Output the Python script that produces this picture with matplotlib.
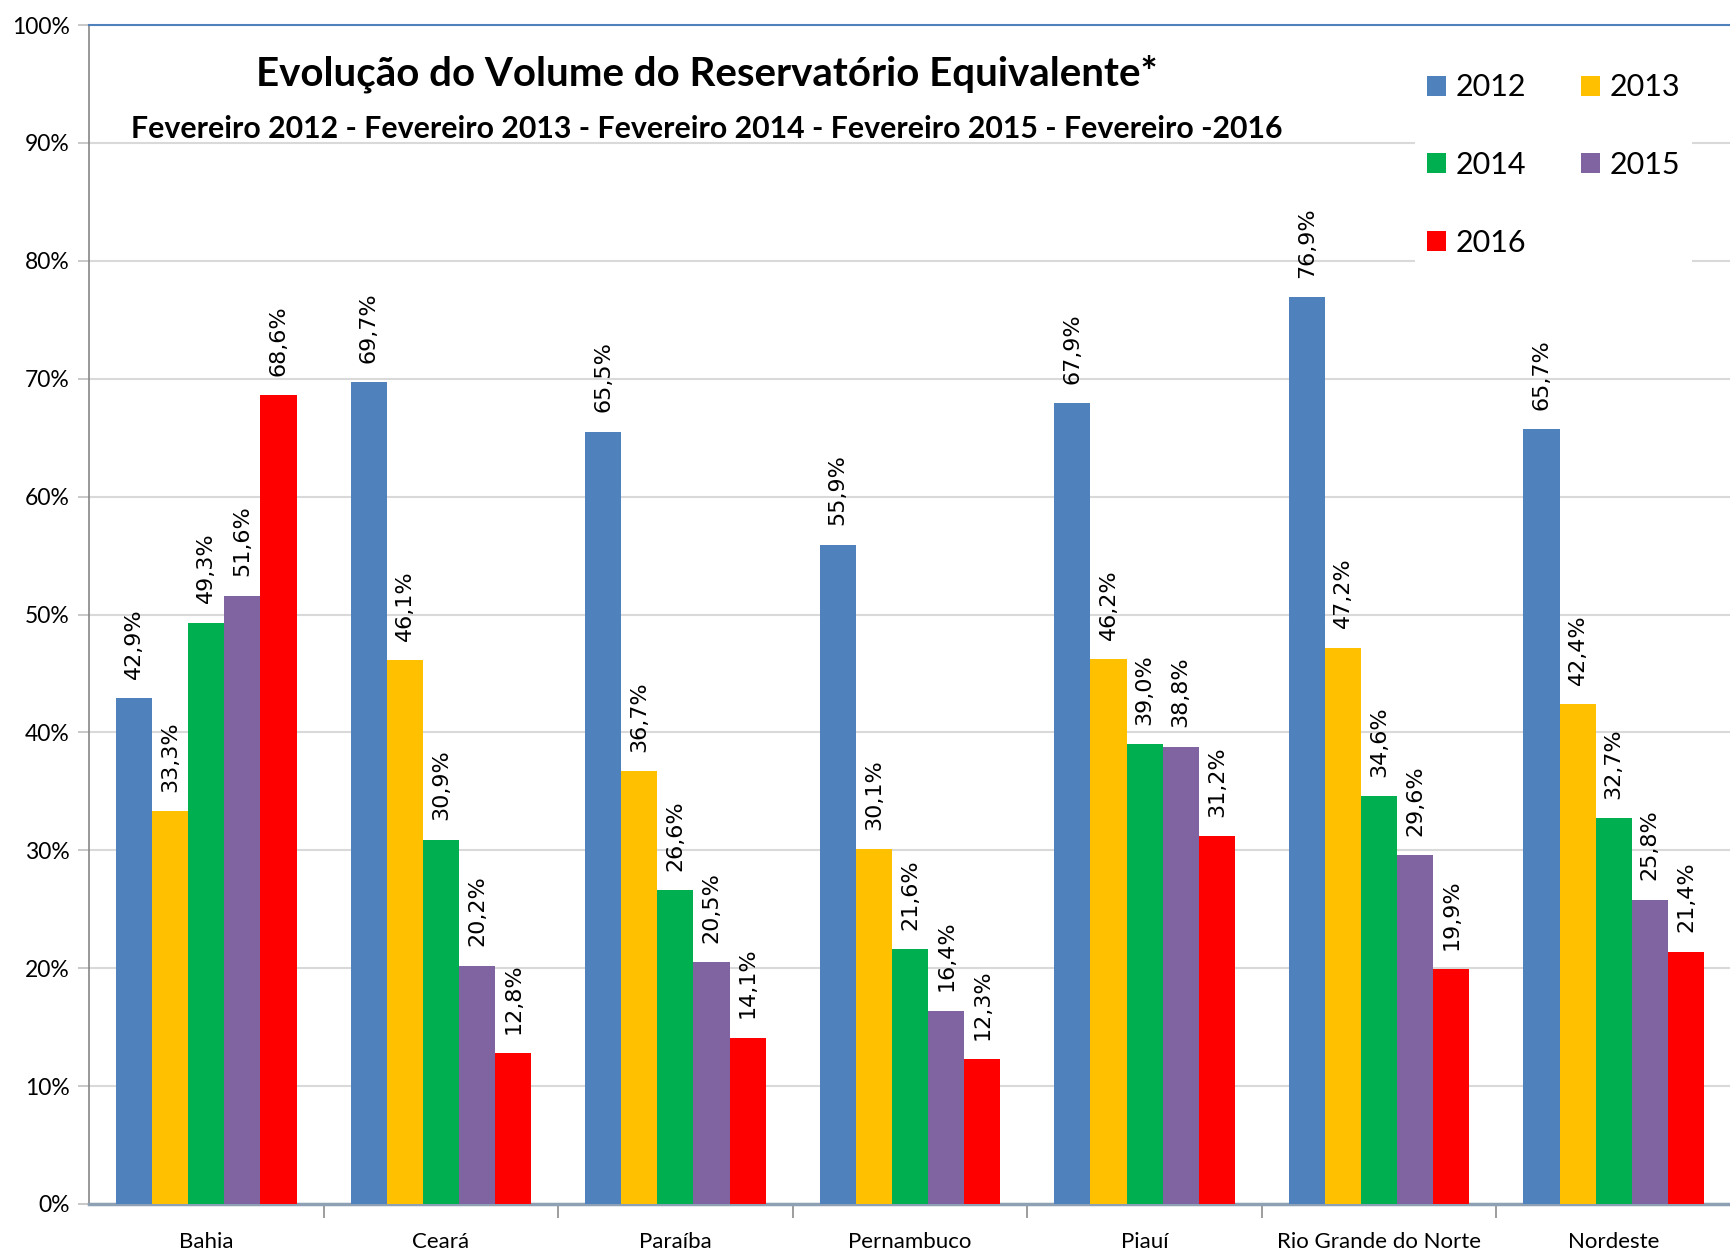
import numpy as np
import matplotlib
matplotlib.use('Agg')
from matplotlib import pyplot as plt
from matplotlib.patches import Rectangle

# data (percent)
regioes = ['Bahia', 'Ceará', 'Paraíba', 'Pernambuco', 'Piauí', 'Rio Grande do Norte', 'Nordeste']
anos = ['2012', '2013', '2014', '2015', '2016']
v2012 = [42.9, 69.7, 65.5, 55.9, 67.9, 76.9, 65.7]
v2013 = [33.3, 46.1, 36.7, 30.1, 46.2, 47.2, 42.4]
v2014 = [49.3, 30.9, 26.6, 21.6, 39.0, 34.6, 32.7]
v2015 = [51.6, 20.2, 20.5, 16.4, 38.8, 29.6, 25.8]
v2016 = [68.6, 12.8, 14.1, 12.3, 31.2, 19.9, 21.4]
cores = ['#4F81BD', '#FFC000', '#00B050', '#8064A2', '#FF0000']

series = [v2012, v2013, v2014, v2015, v2016]
fonte = ['Lato', 'DejaVu Sans']

fig = plt.figure(figsize=(17.31, 12.54), dpi=100)
ax = fig.add_axes([89/1731, 1-1204/1254, 1-89/1731, (1204-25)/1254])

x = np.arange(len(regioes))
w = 0.154
handles = []
for k in range(5):
    pos = x + (k-2)*w
    b = ax.bar(pos, series[k], w, color=cores[k], label=anos[k], zorder=3)
    handles.append(b)
    for xi, val in zip(pos, series[k]):
        ax.annotate(('%.1f%%' % val).replace('.', ','), (xi, val), xytext=(0, 14),
                    textcoords='offset points', rotation=90, ha='center', va='bottom',
                    fontsize=16, family='DejaVu Sans', zorder=5)

ax.set_ylim(0, 100)
ax.set_xlim(-0.5, -0.5 + (1731-89)/236.0)
ax.set_yticks(range(0, 101, 10))
ax.set_yticklabels(['%d%%' % t for t in range(0, 101, 10)], family=fonte, fontsize=16.5)
ax.set_xticks(x)
ax.set_xticklabels(regioes, family=fonte, fontsize=16)
ax.set_xticks(x + 0.5, minor=True)
ax.tick_params(axis='x', which='major', length=0, pad=20)
ax.tick_params(axis='x', which='minor', length=10, color='#8C8C8C', width=1.2)
ax.tick_params(axis='y', length=8, color='#BFBFBF', width=1.2, pad=6)
ax.grid(axis='y', color='#D9D9D9', lw=1.5, zorder=0)
ax.spines['right'].set_visible(False)
ax.spines['left'].set_color('#868686')
ax.spines['left'].set_linewidth(1.2)
ax.spines['bottom'].set_color('#8EA0B4')
ax.spines['bottom'].set_linewidth(2.5)
ax.spines['top'].set_color('#4F81BD')
ax.spines['top'].set_linewidth(1.5)

# white area behind title (hides the 90% gridline)
ax.add_patch(Rectangle((0, 0.855), 0.747, 0.12, transform=ax.transAxes,
                       facecolor='white', edgecolor='none', zorder=1))

fig.text(707/1731, 1-74/1254, 'Evolução do Volume do Reservatório Equivalente*',
         ha='center', va='center', fontsize=29, fontweight='bold', family=fonte)
fig.text(707/1731, 1-129/1254,
         'Fevereiro 2012 - Fevereiro 2013 - Fevereiro 2014 - Fevereiro 2015 - Fevereiro -2016',
         ha='center', va='center', fontsize=21.8, fontweight='bold', family=fonte)

order = [0, 2, 4, 1, 3]
leg = ax.legend([handles[i] for i in order], [anos[i] for i in order], ncol=2,
                loc='upper left', bbox_to_anchor=(1400/1731, 1-46/1254),
                bbox_transform=fig.transFigure, frameon=True, fancybox=False,
                facecolor='white', edgecolor='none', framealpha=1,
                prop={'family': fonte, 'size': 22}, handlelength=0.62, handleheight=0.62,
                handletextpad=0.3, columnspacing=1.8, labelspacing=1.62, borderpad=0.4)
leg.set_zorder(6)

fig.savefig('out.png', dpi=100)
